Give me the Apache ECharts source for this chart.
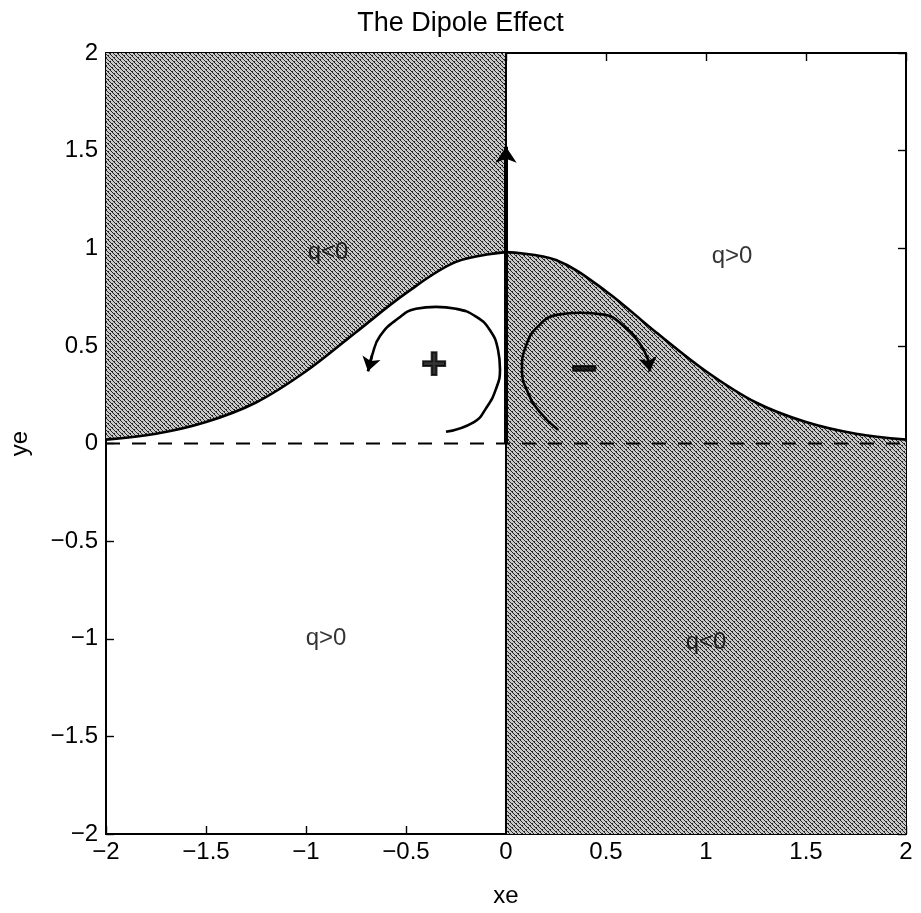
<!DOCTYPE html>
<html>
<head>
<meta charset="utf-8">
<script src="https://cdn.jsdelivr.net/npm/echarts@6/dist/echarts.min.js"></script>
<style>
  html, body { margin: 0; padding: 0; background: #fff; }
  #chart { width: 921px; height: 913px; }
</style>
</head>
<body>
<div id="chart"></div>
<script>
// Boundary q = 0 curve, left branch (x <= 0) and right branch (x >= 0)
const leftX  = [-2, -1.75, -1.5, -1.25, -1, -0.75, -0.5, -0.25, 0];
const leftY  = [0.02, 0.05, 0.11, 0.21, 0.37, 0.57, 0.77, 0.93, 0.98];
const rightX = [0, 0.25, 0.5, 0.75, 1, 1.25, 1.5, 1.75, 2];
const rightY = [0.98, 0.94, 0.78, 0.57, 0.37, 0.21, 0.11, 0.05, 0.02];

// Circulation arrows around the + and - charges (drawn start -> arrow tip)
const plusArc = [[-0.30, 0.06], [-0.16, 0.11], [-0.10, 0.18], [-0.05, 0.28], [-0.03, 0.38],
                 [-0.04, 0.48], [-0.08, 0.58], [-0.15, 0.65], [-0.25, 0.69], [-0.35, 0.70],
                 [-0.45, 0.69], [-0.54, 0.64], [-0.63, 0.55], [-0.67, 0.45], [-0.69, 0.37]];
const minusArc = [[0.26, 0.07], [0.17, 0.16], [0.11, 0.26], [0.08, 0.38], [0.10, 0.50],
                  [0.16, 0.60], [0.26, 0.66], [0.37, 0.67], [0.49, 0.66], [0.59, 0.60],
                  [0.67, 0.51], [0.71, 0.43], [0.72, 0.37]];

// Vertical arrow along x = 0
const upArrow = [[0, 0], [0, 1.52]];

// Charge markers and region labels
const charges = [{ pos: [-0.36, 0.39], text: '+' }, { pos: [0.39, 0.37], text: '−' }];
const regionLabels = [
  { pos: [-0.89, 0.98], text: 'q<0' },
  { pos: [1.13, 0.96], text: 'q>0' },
  { pos: [-0.9, -1.0], text: 'q>0' },
  { pos: [1.0, -1.02], text: 'q<0' }
];

const ticks = { min: -2, max: 2, step: 0.5 };

// Halftone-like fill for the shaded regions
function makeHatch() {
  const c = document.createElement('canvas');
  c.width = 8; c.height = 8;
  const g = c.getContext('2d');
  g.fillStyle = '#c8c8c8';
  g.fillRect(0, 0, 8, 8);
  g.fillStyle = '#262626';
  for (let y = 0; y < 8; y++) {
    for (let x = 0; x < 8; x++) {
      if (((x - y) % 4 + 4) % 4 === 0) g.fillRect(x, y, 1, 1);
      if (((x + y) % 8 + 8) % 8 === 3 && (x % 2 === 0)) g.fillRect(x, y, 1, 1);
    }
  }
  return { image: c, repeat: 'repeat' };
}
const hatch = makeHatch();

const fontFam = '"Liberation Sans", Arial, Helvetica, sans-serif';
const fmt = v => String(v).replace('-', '−');
const zip = (xs, ys) => xs.map((x, i) => [x, ys[i]]);

const axisCommon = {
  type: 'value', min: ticks.min, max: ticks.max, interval: ticks.step,
  splitLine: { show: false },
  axisLine: { show: true, onZero: false, lineStyle: { color: '#000', width: 2 } },
  axisTick: { show: true, inside: true, length: 8, lineStyle: { color: '#000', width: 1.4 } }
};

const arcSeries = arc => ({
  type: 'line', data: arc, smooth: 0.5, symbol: 'none', z: 4,
  lineStyle: { color: '#000', width: 2.6 }
});

const chart = echarts.init(document.getElementById('chart'), null, { renderer: 'canvas' });

chart.setOption({
  animation: false,
  backgroundColor: '#fff',
  title: {
    text: 'The Dipole Effect', left: 'center', top: 5,
    textStyle: { fontFamily: fontFam, fontSize: 27, fontWeight: 'normal', color: '#000' }
  },
  grid: { left: 97, right: 15, top: 53, bottom: 70 },
  xAxis: [
    Object.assign({}, axisCommon, {
      position: 'bottom', name: 'xe', nameLocation: 'middle', nameGap: 50,
      nameTextStyle: { fontFamily: fontFam, fontSize: 24, color: '#000' },
      axisLabel: { fontFamily: fontFam, fontSize: 24, color: '#000', margin: 6, formatter: fmt }
    }),
    Object.assign({}, axisCommon, { position: 'top', axisLabel: { show: false } })
  ],
  yAxis: [
    Object.assign({}, axisCommon, {
      position: 'left', name: 'ye', nameLocation: 'middle', nameGap: 74,
      nameTextStyle: { fontFamily: fontFam, fontSize: 24, color: '#000' },
      axisLabel: { fontFamily: fontFam, fontSize: 24, color: '#000', margin: 8, formatter: fmt }
    }),
    Object.assign({}, axisCommon, { position: 'right', axisLabel: { show: false } })
  ],
  series: [
    {
      type: 'line', data: zip(leftX, leftY), smooth: 0.35, symbol: 'none', z: 2,
      lineStyle: { color: '#000', width: 2.6 },
      areaStyle: { origin: 'end', color: hatch, opacity: 1 }
    },
    {
      type: 'line', data: zip(rightX, rightY), smooth: 0.35, symbol: 'none', z: 2,
      lineStyle: { color: '#000', width: 2.6 },
      areaStyle: { origin: 'start', color: hatch, opacity: 1 }
    },
    {
      type: 'line', data: [[-2, 0], [2, 0]], symbol: 'none', z: 3,
      lineStyle: { color: '#000', width: 1.8, type: [14, 12] }
    },
    {
      type: 'line', data: [[0, -2], [0, 2]], symbol: 'none', z: 3,
      lineStyle: { color: '#000', width: 2 }
    },
    {
      type: 'lines', coordinateSystem: 'cartesian2d', z: 4,
      symbol: ['none', 'arrow'], symbolSize: [10, 16],
      lineStyle: { color: '#000', width: 4, opacity: 1 },
      data: [{ coords: upArrow }]
    },
    arcSeries(plusArc),
    arcSeries(minusArc),
    {
      // arrowheads at the ends of the circulation arcs
      type: 'lines', coordinateSystem: 'cartesian2d', z: 4,
      symbol: ['none', 'arrow'], symbolSize: [9, 14],
      lineStyle: { color: '#000', width: 2.6, opacity: 1 },
      data: [{ coords: plusArc.slice(-2) }, { coords: minusArc.slice(-2) }]
    },
    {
      type: 'scatter', symbolSize: 0, z: 5,
      data: charges.map(c => ({ value: c.pos, name: c.text })),
      label: {
        show: true, position: 'inside', formatter: p => p.name,
        fontFamily: fontFam, fontSize: 44, fontWeight: 'bold', color: '#000',
        textBorderColor: '#000', textBorderWidth: 2
      }
    },
    {
      type: 'scatter', symbolSize: 0, z: 5,
      data: regionLabels.map(c => ({ value: c.pos, name: c.text })),
      label: {
        show: true, position: 'inside', formatter: p => p.name,
        fontFamily: fontFam, fontSize: 24, color: '#000'
      }
    }
  ]
});
</script>
</body>
</html>
